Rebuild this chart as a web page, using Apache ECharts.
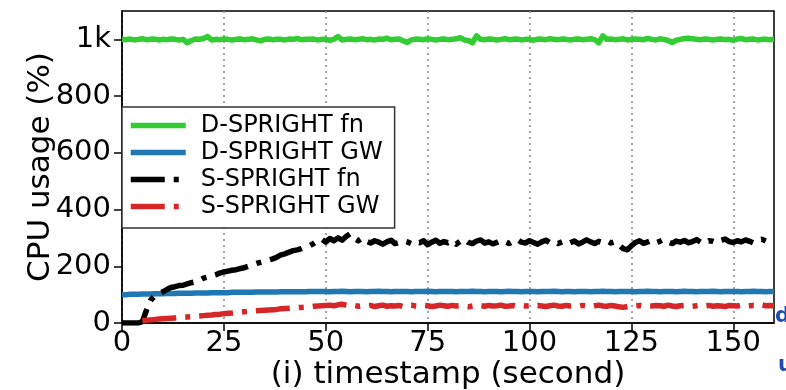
<!DOCTYPE html>
<html>
<head>
<meta charset="utf-8">
<script src="https://cdn.jsdelivr.net/npm/echarts@6/dist/echarts.min.js"></script>
<style>
  html, body { margin: 0; padding: 0; background: #fff; }
  #chart { width: 786px; height: 390px; }
</style>
</head>
<body>
<div id="chart"></div>
<script>
// one sample per second, t = 0 .. 160
var startSecond = 0;
var xTicks = [0, 25, 50, 75, 100, 125, 150];
var yTicks = [0, 200, 400, 600, 800, 1000];

var dFn = [
    1000, 999, 1001, 998, 1000, 1002, 999, 1000, 1001, 998,
    1000, 999, 1001, 1000, 998, 1000, 988, 996, 1001, 1000,
    1003, 1010, 998, 1000, 999, 1001, 1000, 998, 1000, 1001,
    999, 1000, 1002, 998, 995, 1000, 1001, 999, 1000, 1000,
    998, 1001, 1000, 1003, 999, 1000, 1000, 1001, 998, 1000,
    1000, 997, 1000, 1010, 998, 1000, 1001, 999, 1000, 1002,
    999, 1000, 998, 1001, 1000, 1004, 999, 1000, 1001, 995,
    989, 998, 1001, 1000, 999, 1002, 1000, 998, 1000, 1001,
    999, 1000, 1002, 1006, 998, 996, 988, 1012, 1000, 999,
    1001, 1000, 998, 1000, 1002, 999, 1000, 1001, 998, 1000,
    1000, 997, 1001, 1000, 999, 1002, 1000, 999, 1001, 1000,
    998, 1000, 1001, 999, 1000, 1002, 999, 988, 1012, 1000,
    1001, 999, 1000, 1002, 998, 1000, 1001, 1000, 999, 1003,
    1000, 998, 1002, 1000, 996, 989, 997, 1000, 1003, 1004,
    1002, 1000, 999, 1001, 1000, 998, 1000, 1001, 999, 1000,
    997, 1001, 1003, 999, 1000, 1001, 998, 1000, 1000, 999,
    1000
];
var dGw = [
    100, 100, 101, 101, 101, 102, 102, 102, 103, 103,
    103, 104, 104, 104, 105, 105, 105, 105, 106, 106,
    106, 106, 107, 107, 107, 107, 107, 108, 108, 108,
    108, 108, 108, 109, 109, 109, 109, 109, 109, 110,
    110, 110, 110, 110, 110, 110, 111, 111, 111, 111,
    111, 110, 111, 111, 112, 111, 110, 111, 111, 111,
    110, 111, 111, 112, 111, 111, 110, 111, 111, 111,
    111, 110, 111, 111, 111, 112, 111, 110, 111, 111,
    111, 111, 110, 111, 111, 111, 112, 111, 111, 110,
    111, 111, 111, 110, 111, 112, 111, 111, 110, 111,
    111, 111, 110, 111, 111, 111, 112, 111, 110, 111,
    111, 110, 111, 111, 111, 110, 111, 111, 112, 111,
    111, 110, 111, 111, 111, 111, 110, 111, 111, 112,
    111, 111, 110, 111, 111, 111, 110, 111, 112, 111,
    111, 110, 111, 111, 111, 112, 111, 110, 111, 111,
    111, 111, 110, 111, 111, 112, 111, 111, 110, 111,
    111
];
var sFn = [
    0, 0, 0, 0, 0, 5, 45, 80, 95, 105,
    110, 118, 125, 128, 132, 133, 138, 142, 145, 150,
    158, 162, 166, 170, 176, 180, 183, 186, 188, 192,
    195, 200, 205, 210, 214, 218, 222, 226, 232, 240,
    244, 250, 255, 258, 262, 268, 272, 280, 290, 296,
    285, 298, 290, 300, 292, 305, 315, 298, 290, 300,
    288, 282, 290, 285, 278, 286, 292, 280, 284, 290,
    286, 280, 288, 283, 290, 276, 285, 292, 281, 287,
    283, 290, 278, 288, 295, 284, 280, 289, 293, 282,
    286, 279, 284, 291, 287, 280, 288, 295, 285, 282,
    290, 284, 278, 286, 292, 283, 288, 280, 286, 291,
    283, 289, 279, 285, 293, 286, 280, 288, 284, 290,
    282, 287, 275, 262, 258, 272, 284, 290, 281, 286,
    292, 283, 288, 295, 286, 280, 289, 285, 291, 283,
    287, 294, 285, 281, 290, 288, 283, 292, 296, 287,
    284, 290, 286, 293, 288, 282, 291, 295, 289, 293,
    290
];
var sGw = [
    null, null, null, null, null, 8, 10, 11, 12, 14,
    15, 16, 17, 18, 19, 20, 21, 22, 24, 25,
    26, 27, 28, 30, 31, 33, 34, 35, 37, 38,
    40, 41, 42, 43, 44, 45, 46, 47, 48, 50,
    51, 52, 53, 54, 55, 56, 57, 59, 60, 61,
    62, 63, 61, 64, 66, 63, 60, 62, 59, 61,
    60, 62, 58, 61, 63, 59, 61, 60, 62, 58,
    61, 63, 60, 59, 62, 61, 58, 60, 63, 61,
    59, 62, 60, 61, 58, 57, 60, 62, 61, 59,
    62, 60, 61, 63, 59, 60, 62, 58, 61, 60,
    61, 59, 62, 60, 58, 61, 63, 60, 59, 62,
    60, 61, 59, 62, 60, 58, 61, 63, 60, 59,
    62, 60, 57, 55, 58, 61, 60, 62, 59, 61,
    60, 62, 61, 59, 63, 60, 58, 61, 62, 60,
    59, 61, 63, 60, 62, 59, 61, 60, 58, 62,
    61, 60, 63, 59, 61, 62, 60, 64, 61, 62,
    61
];

function pairs(arr) {
    return arr.map(function (v, i) { return [startSecond + i, v]; });
}

var font = 'DejaVu Sans';
var dashDot = [34, 9, 5, 9];

function line(name, data, color, dashed) {
    return {
        name: name,
        type: 'line',
        data: pairs(data),
        symbol: 'none',
        connectNulls: false,
        animation: false,
        lineStyle: {
            color: color,
            width: 5.5,
            type: dashed ? dashDot : 'solid',
            cap: 'butt',
            join: 'round'
        },
        itemStyle: { color: color }
    };
}

var myChart = echarts.init(document.getElementById('chart'));
option = {
    backgroundColor: '#fff',
    animation: false,
    grid: {
        left: 122, right: 12, top: 11, bottom: 67,
        outerBoundsMode: 'none',
        containLabel: false,
        show: true, borderColor: '#000', borderWidth: 1.5
    },
    legend: {
        orient: 'vertical',
        left: 122, top: 107,
        padding: [5, 12, 8, 6],
        itemGap: 0,
        itemWidth: 55,
        itemHeight: 14,
        backgroundColor: '#fff',
        borderColor: '#333',
        borderWidth: 1.5,
        itemStyle: { opacity: 0 },
        lineStyle: { width: 5.5, cap: 'butt' },
        textStyle: {
            fontFamily: font, fontSize: 24, color: '#000',
            lineHeight: 27, padding: [0, 0, 0, 10]
        },
        data: ['D-SPRIGHT fn', 'D-SPRIGHT GW', 'S-SPRIGHT fn', 'S-SPRIGHT GW']
    },
    xAxis: {
        type: 'value',
        min: 0, max: 160, interval: 25,
        name: '(i) timestamp (second)',
        nameLocation: 'middle',
        nameGap: 36,
        nameMoveOverlap: false,
        nameTextStyle: { fontFamily: font, fontSize: 31, color: '#000' },
        axisLine: { lineStyle: { color: '#000', width: 1.5 } },
        axisTick: { length: 8, lineStyle: { color: '#000', width: 1.5 }, customValues: xTicks },
        axisLabel: {
            fontFamily: font, fontSize: 29, color: '#000', margin: 6,
            customValues: xTicks
        },
        splitLine: { show: true, lineStyle: { color: '#888', width: 1.5, type: [2, 4] } }
    },
    yAxis: {
        type: 'value',
        min: 0, max: 1100, interval: 200,
        name: 'CPU usage (%)',
        nameLocation: 'middle',
        nameGap: 66,
        nameMoveOverlap: false,
        nameTextStyle: { fontFamily: font, fontSize: 31, color: '#000' },
        axisLine: { lineStyle: { color: '#000', width: 1.5 } },
        axisTick: { length: 8, lineStyle: { color: '#000', width: 1.5 }, customValues: yTicks },
        axisLabel: {
            fontFamily: font, fontSize: 29, color: '#000', margin: 11,
            customValues: yTicks,
            formatter: function (v) { return v === 1000 ? '1k' : v; }
        },
        splitLine: { show: false }
    },
    graphic: [
        { type: 'text', left: 775, top: 306, style: { text: 'd', fontFamily: font, fontSize: 21, fontWeight: 'bold', fill: '#1f4bb0' } },
        { type: 'text', left: 778, top: 355, style: { text: 'u', fontFamily: font, fontSize: 21, fontWeight: 'bold', fill: '#1f4bb0' } }
    ],
    series: [
        line('D-SPRIGHT fn', dFn, '#32cd32', false),
        line('D-SPRIGHT GW', dGw, '#1f77b4', false),
        line('S-SPRIGHT fn', sFn, '#000000', true),
        line('S-SPRIGHT GW', sGw, '#d62728', true)
    ]
};
myChart.setOption(option);
</script>
</body>
</html>
